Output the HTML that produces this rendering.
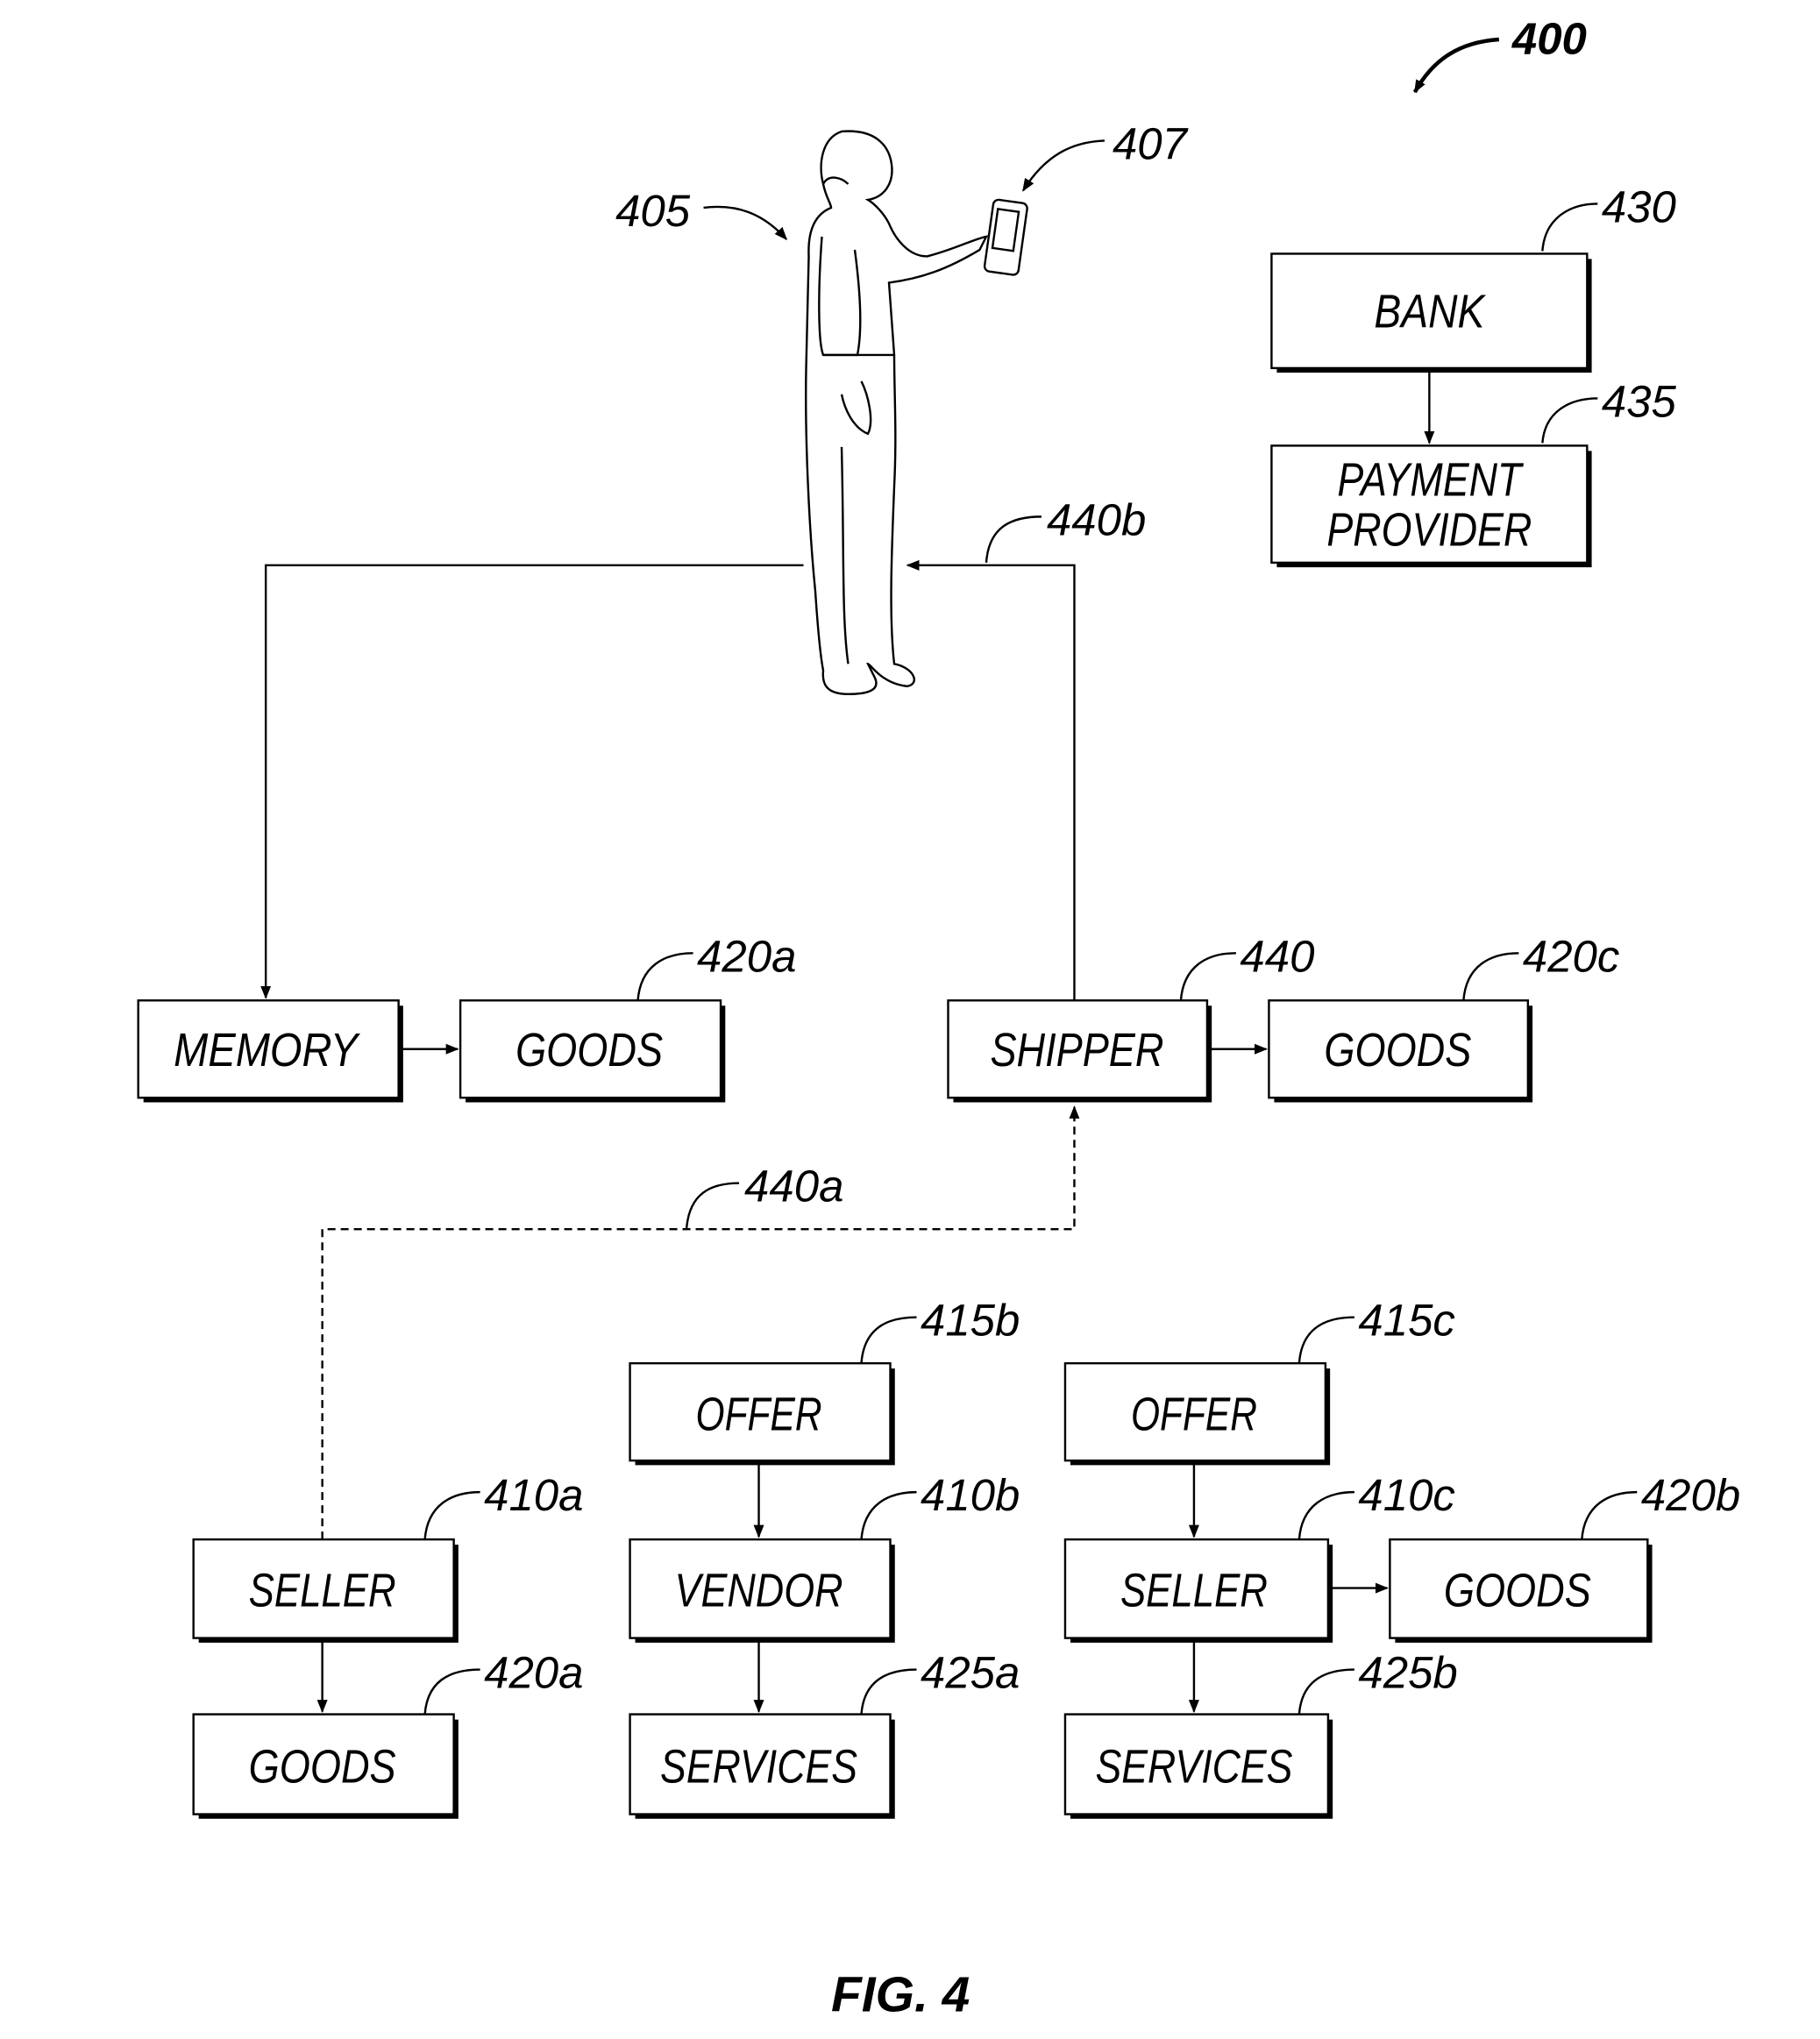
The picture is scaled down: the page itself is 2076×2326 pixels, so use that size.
<!DOCTYPE html>
<html><head><meta charset="utf-8"><style>
html,body{margin:0;padding:0;background:#fff}
svg{display:block}
text{font-family:"Liberation Sans",sans-serif;font-style:italic;fill:#000}
</style></head><body>
<svg width="2076" height="2326" viewBox="0 0 1384 1551" xmlns="http://www.w3.org/2000/svg">
<defs>
<marker id="a" markerWidth="10" markerHeight="10" refX="9" refY="5" orient="auto" markerUnits="userSpaceOnUse">
<path d="M0,1 L10,5 L0,9 Z" fill="#000"/></marker>
</defs>
<g fill="none" stroke="#000" stroke-width="1.6">
<!-- boxes with shadow -->
<g id="boxes">
<path d="M971,282 H1209 V197" stroke-width="3"/><rect x="967" y="193" width="240" height="87"/>
<path d="M971,430 H1209 V343" stroke-width="3"/><rect x="967" y="339" width="240" height="89"/>
<path d="M109,837 H305 V765" stroke-width="3"/><rect x="105" y="761" width="198" height="74"/>
<path d="M354,837 H550 V765" stroke-width="3"/><rect x="350" y="761" width="198" height="74"/>
<path d="M725,837 H920 V765" stroke-width="3"/><rect x="721" y="761" width="197" height="74"/>
<path d="M969,837 H1164 V765" stroke-width="3"/><rect x="965" y="761" width="197" height="74"/>
<path d="M483,1113 H679 V1041" stroke-width="3"/><rect x="479" y="1037" width="198" height="74"/>
<path d="M483,1248 H679 V1175" stroke-width="3"/><rect x="479" y="1171" width="198" height="75"/>
<path d="M483,1382 H679 V1308" stroke-width="3"/><rect x="479" y="1304" width="198" height="76"/>
<path d="M151,1248 H347 V1175" stroke-width="3"/><rect x="147" y="1171" width="198" height="75"/>
<path d="M151,1382 H347 V1308" stroke-width="3"/><rect x="147" y="1304" width="198" height="76"/>
<path d="M814,1113 H1010 V1041" stroke-width="3"/><rect x="810" y="1037" width="198" height="74"/>
<path d="M814,1248 H1012 V1175" stroke-width="3"/><rect x="810" y="1171" width="200" height="75"/>
<path d="M1061,1248 H1255 V1175" stroke-width="3"/><rect x="1057" y="1171" width="196" height="75"/>
<path d="M814,1382 H1012 V1308" stroke-width="3"/><rect x="810" y="1304" width="200" height="76"/>
</g>
<!-- connectors -->
<path d="M1087,282 V337" marker-end="url(#a)"/>
<path d="M611,430 H202 V759" marker-end="url(#a)"/>
<path d="M817,761 V430 H690" marker-end="url(#a)"/>
<path d="M245,1171 V935 H817 V842" stroke-dasharray="6,4" marker-end="url(#a)"/>
<path d="M303,798 H348" marker-end="url(#a)"/>
<path d="M918,798 H963" marker-end="url(#a)"/>
<path d="M577,1113 V1169" marker-end="url(#a)"/>
<path d="M577,1248 V1302" marker-end="url(#a)"/>
<path d="M245,1248 V1302" marker-end="url(#a)"/>
<path d="M908,1113 V1169" marker-end="url(#a)"/>
<path d="M908,1248 V1302" marker-end="url(#a)"/>
<path d="M1010,1208 H1055" marker-end="url(#a)"/>
<!-- leaders -->
<path d="M1173,191 C1175,165 1195,155 1215,155"/>
<path d="M1173,337 C1175,312 1195,303 1215,303"/>
<path d="M750,428 C752,400 770,393 792,393"/>
<path d="M485,761 C487,735 505,725 527,725"/>
<path d="M898,761 C900,735 918,725 940,725"/>
<path d="M1113,761 C1115,735 1133,725 1155,725"/>
<path d="M522,935 C524,908 540,900 562,900"/>
<path d="M655,1037 C657,1010 675,1002 697,1002"/>
<path d="M655,1171 C657,1145 675,1135 697,1135"/>
<path d="M655,1304 C657,1278 675,1270 697,1270"/>
<path d="M323,1171 C325,1145 343,1135 365,1135"/>
<path d="M323,1304 C325,1278 343,1270 365,1270"/>
<path d="M988,1037 C990,1010 1008,1002 1030,1002"/>
<path d="M988,1171 C990,1145 1008,1135 1030,1135"/>
<path d="M1203,1171 C1205,1145 1223,1135 1245,1135"/>
<path d="M988,1304 C990,1278 1008,1270 1030,1270"/>
<path d="M535,158 C560,155 580,162 598,182" marker-end="url(#a)"/>
<path d="M840,107 C815,108 795,118 778,145" marker-end="url(#a)"/>
<path d="M1140,30 C1110,32 1090,45 1076,70" stroke-width="3" marker-end="url(#a)"/>
<!-- person -->
<path d="M640,100 C625,105 622,125 626,140 C628,150 632,155 632,158 C622,162 614,172 615,195 L613,280 C612,330 615,400 620,450 C622,480 624,500 626,510 C625,520 628,528 645,528 C660,528 670,525 665,515 L660,505 C662,505 670,520 690,522 C700,520 695,508 680,505 C676,470 678,420 680,370 C682,330 680,300 680,270 L676,215 C700,212 720,205 745,190 L750,180 C740,182 725,190 705,195 C690,195 680,180 676,170 C672,162 665,155 660,152 C672,150 680,140 678,125 C676,110 665,98 640,100 Z"/>
<path d="M626,140 C630,132 640,135 645,140"/>
<path d="M625,180 C622,220 622,260 626,270 L652,270 C656,250 654,220 650,190"/>
<path d="M626,270 L680,270"/>
<path d="M640,300 C642,310 648,325 660,330 C665,320 660,300 655,290"/>
<path d="M640,340 C642,420 640,470 645,505"/>
<rect x="752" y="153" width="26" height="55" rx="4" transform="rotate(8 765 180)"/>
<rect x="756" y="160" width="16" height="30" transform="rotate(8 765 180)"/>
</g>
<g font-size="36" text-anchor="middle">
<text x="1087" y="249" textLength="84" lengthAdjust="spacingAndGlyphs">BANK</text>
<text x="1087" y="377" textLength="140" lengthAdjust="spacingAndGlyphs">PAYMENT</text>
<text x="1087" y="415" textLength="156" lengthAdjust="spacingAndGlyphs">PROVIDER</text>
<text x="202" y="811" textLength="140" lengthAdjust="spacingAndGlyphs">MEMORY</text>
<text x="448" y="811" textLength="112" lengthAdjust="spacingAndGlyphs">GOODS</text>
<text x="819" y="811" textLength="132" lengthAdjust="spacingAndGlyphs">SHIPPER</text>
<text x="1063" y="811" textLength="112" lengthAdjust="spacingAndGlyphs">GOODS</text>
<text x="577" y="1088" textLength="96" lengthAdjust="spacingAndGlyphs">OFFER</text>
<text x="577" y="1222" textLength="128" lengthAdjust="spacingAndGlyphs">VENDOR</text>
<text x="577" y="1356" textLength="150" lengthAdjust="spacingAndGlyphs">SERVICES</text>
<text x="245" y="1222" textLength="112" lengthAdjust="spacingAndGlyphs">SELLER</text>
<text x="245" y="1356" textLength="112" lengthAdjust="spacingAndGlyphs">GOODS</text>
<text x="908" y="1088" textLength="96" lengthAdjust="spacingAndGlyphs">OFFER</text>
<text x="908" y="1222" textLength="112" lengthAdjust="spacingAndGlyphs">SELLER</text>
<text x="1154" y="1222" textLength="112" lengthAdjust="spacingAndGlyphs">GOODS</text>
<text x="908" y="1356" textLength="150" lengthAdjust="spacingAndGlyphs">SERVICES</text>
</g>
<g font-size="34">
<text x="1218" y="169">430</text>
<text x="1218" y="317">435</text>
<text x="796" y="407">440b</text>
<text x="530" y="739">420a</text>
<text x="943" y="739">440</text>
<text x="1158" y="739">420c</text>
<text x="566" y="914">440a</text>
<text x="700" y="1016">415b</text>
<text x="700" y="1149">410b</text>
<text x="700" y="1284">425a</text>
<text x="368" y="1149">410a</text>
<text x="368" y="1284">420a</text>
<text x="1033" y="1016">415c</text>
<text x="1033" y="1149">410c</text>
<text x="1248" y="1149">420b</text>
<text x="1033" y="1284">425b</text>
<text x="468" y="172">405</text>
<text x="846" y="121">407</text>
<text x="1150" y="41" font-weight="bold">400</text>
<text x="632" y="1530" font-weight="bold" font-size="38">FIG. 4</text>
</g>
</svg>
</body></html>
